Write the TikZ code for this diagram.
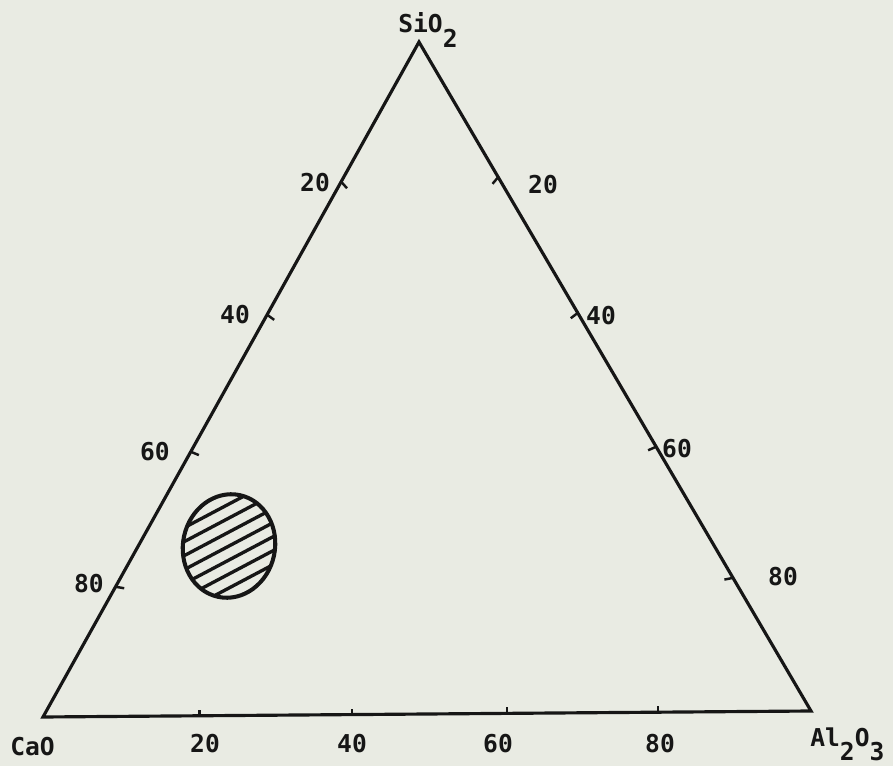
\documentclass[tikz,border=0pt]{standalone}
\usepackage{fontspec}
\setmonofont{DejaVu Sans Mono}
\usetikzlibrary{calc,positioning}
\definecolor{paper}{RGB}{233,235,227}
\definecolor{ink}{RGB}{22,22,22}
\tikzset{
  axis/.style={draw=ink,line width=1.8pt,line join=miter},
  tickmark/.style={draw=ink,line width=1.4pt},
  plotlabel/.style={font=\ttfamily\bfseries\fontsize{14}{16}\selectfont,text=ink,inner sep=0pt},
  hatch/.style={draw=ink,line width=1.9pt}
}
\newcommand{\lowsub}[1]{\raisebox{-0.6em}{#1}}

\begin{document}
\begin{tikzpicture}[x=0.02cm,y=-0.02cm,
  blob/.style={draw=ink,line width=2.3pt}
]
  \fill[paper] (0,0) rectangle (893,766);
  \coordinate (sio2) at (419,42);
  \coordinate (cao) at (43,717);
  \coordinate (al2o3) at (811,711);
  \draw[axis] (cao) -- (sio2) -- (al2o3) -- cycle;
  % ticks on the three sides
  \foreach \pos/\val in {0.207/20,0.404/40,0.607/60,0.807/80} {
    \coordinate (left\val) at ($(sio2)!\pos!(cao)$);
    \draw[tickmark] (left\val) -- ($(left\val)!5pt!(al2o3)$);
  }
  \foreach \pos/\val in {0.202/20,0.405/40,0.605/60,0.801/80} {
    \coordinate (right\val) at ($(sio2)!\pos!(al2o3)$);
    \draw[tickmark] (right\val) -- ($(right\val)!5pt!(cao)$);
  }
  \foreach \pos/\val in {0.204/20,0.402/40,0.604/60,0.801/80} {
    \coordinate (bottom\val) at ($(cao)!\pos!(al2o3)$);
    \draw[tickmark] (bottom\val) -- ++(0,-6);
  }
  % scale labels
  \foreach \val/\px/\py in {20/315/183,40/235/315,60/155/452,80/89/584}
    \node[plotlabel] (lleft\val) at (\px,\py) {\val};
  \foreach \val/\px/\py in {20/543/185,40/601/316,60/677/449,80/783/577}
    \node[plotlabel] (lright\val) at (\px,\py) {\val};
  \foreach \val/\px in {20/205,40/352,60/498,80/660}
    \node[plotlabel] (lbottom\val) at (\px,744) {\val};
  % corner labels
  \node[plotlabel,anchor=base west] (lblsio2) at (398,33) {SiO\lowsub{2}};
  \node[plotlabel,anchor=base west] (lblcao) at (10,755) {CaO};
  \node[plotlabel,anchor=base west] (lblal2o3) at (810,746) {Al\lowsub{2}O\lowsub{3}};
  % hatched field
  \coordinate (blobc) at (229,546);
  \begin{scope}
    \clip[rotate around={-12:(blobc)}] (blobc) ellipse [x radius=46, y radius=52];
    \foreach \k in {-5,...,5}
      \draw[hatch] ($(blobc)+(-70,37+\k*14)$) -- ($(blobc)+(70,-37+\k*14)$);
  \end{scope}
  \draw[blob,rotate around={-12:(blobc)}] (blobc) ellipse [x radius=46, y radius=52];
\end{tikzpicture}
\end{document}
